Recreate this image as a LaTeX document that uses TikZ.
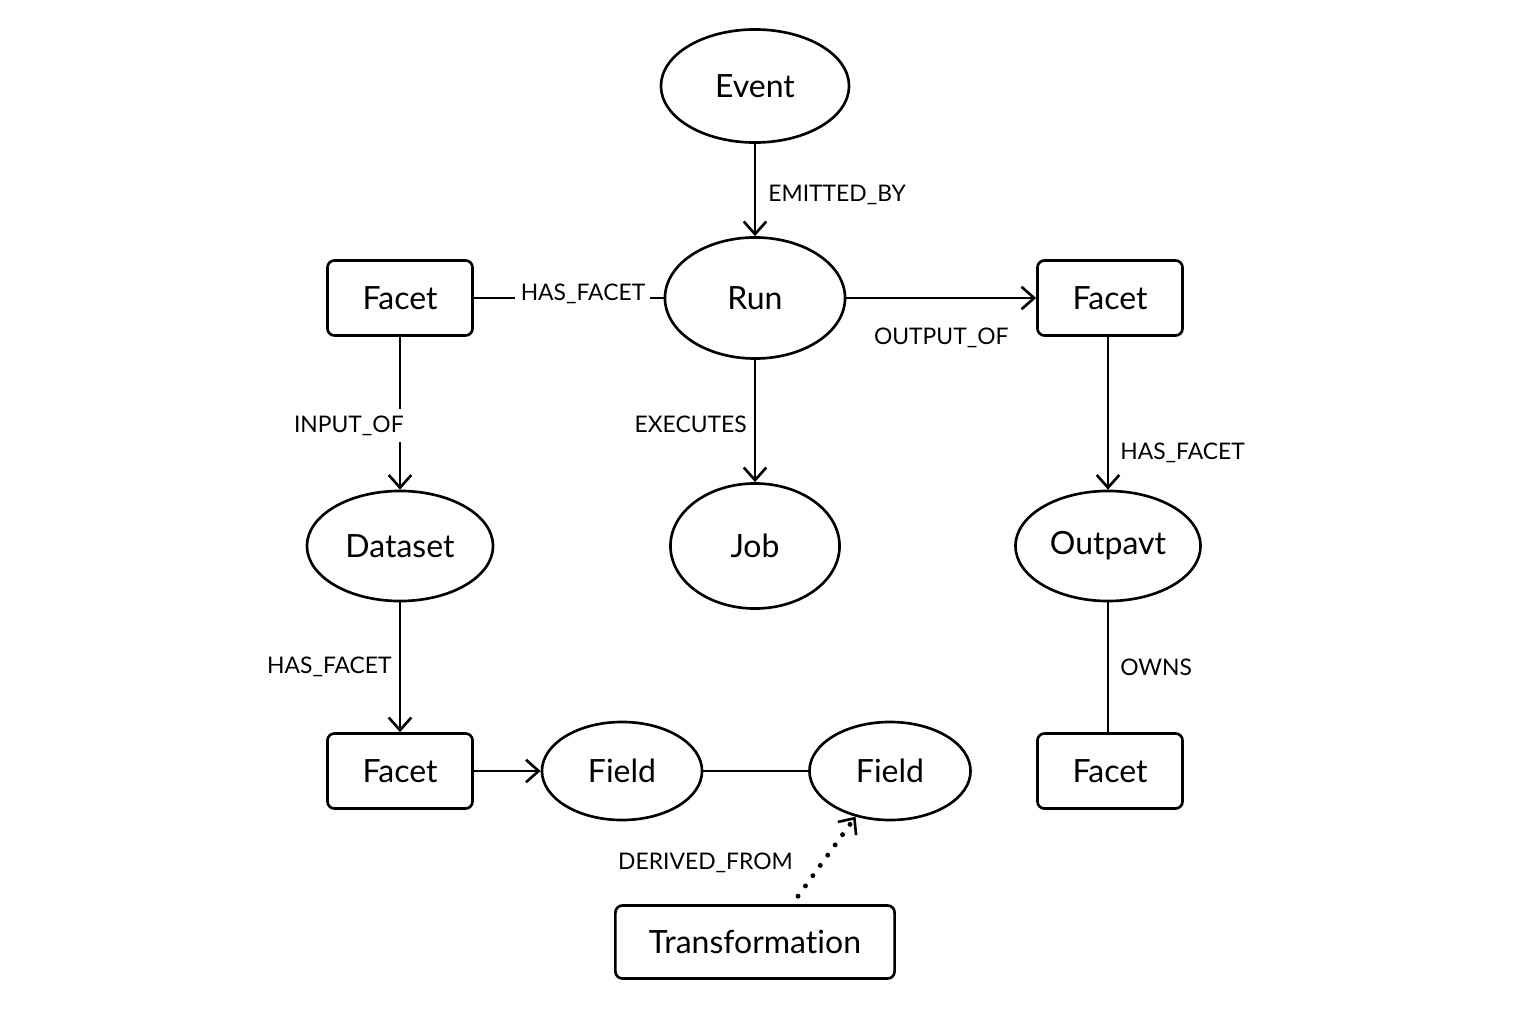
\documentclass[tikz,border=0pt]{standalone}
\usepackage{fontspec}
\setmainfont[Ligatures=NoCommon]{Lato}
\usetikzlibrary{arrows.meta,shapes.geometric}
\tikzset{
	ent/.style={draw,ellipse,line width=0.75pt,inner sep=0pt,font=\fontsize{9.1}{10}\selectfont},
	fbox/.style={draw,rectangle,rounded corners=2pt,line width=0.75pt,minimum width=1.45cm,minimum height=0.75cm,font=\fontsize{9.1}{10}\selectfont},
	lbl/.style={font=\fontsize{6.5}{8}\selectfont,inner sep=2pt},
	rel/.style={line width=0.75pt},
	arr/.style={rel,-{Straight Barb[length=3.6pt,width=6.4pt,line width=0.75pt]}}
}
\begin{document}
\begin{tikzpicture}[x=0.01cm,y=-0.01cm]
		\useasboundingbox (0,0) rectangle (1536,1024);

		% nodes
		\node[ent,minimum width=1.88cm,minimum height=1.13cm] (event) at (755,86) {Event};
		\node[ent,minimum width=1.80cm,minimum height=1.21cm] (run) at (755,298) {Run};
		\node[fbox] (facetin) at (400,298) {Facet};
		\node[fbox] (facetout) at (1110,298) {Facet};
		\node[ent,minimum width=1.86cm,minimum height=1.10cm] (dataset) at (400,546) {Dataset};
		\node[ent,minimum width=1.69cm,minimum height=1.25cm] (job) at (755,546) {Job};
		\node[ent,minimum width=1.85cm,minimum height=1.10cm] (output) at (1108,546) {Outpavt};
		\node[fbox] (facetds) at (400,771) {Facet};
		\node[ent,minimum width=1.60cm,minimum height=0.98cm] (fielda) at (622,771) {Field};
		\node[ent,minimum width=1.61cm,minimum height=0.98cm] (fieldb) at (890,771) {Field};
		\node[fbox] (facetown) at (1110,771) {Facet};
		\node[fbox,minimum width=2.79cm,minimum height=0.73cm] (trans) at (755,942) {Transformation};

		% relations
		\draw[arr] (event) -- (run) node[lbl,pos=0.55,right=0.05cm] {EMITTED\_BY};
		\draw[rel] (facetin) -- (run) node[lbl,pos=0.575,fill=white,inner xsep=1.5pt,yshift=0.04cm] {HAS\_FACET};
		\draw[arr] (run) -- (facetout) node[lbl,midway,below=0.22cm] {OUTPUT\_OF};
		\draw[arr] (facetin) -- (dataset) node[lbl,pos=0.58,fill=white,anchor=east,xshift=0.12cm] {INPUT\_OF};
		\draw[arr] (run) -- (job) node[lbl,pos=0.53,left=0cm] {EXECUTES};
		\draw[arr] (facetout.south-|output) -- (output) node[lbl,pos=0.76,right=0.04cm] {HAS\_FACET};
		\draw[arr] (dataset) -- (facetds) node[lbl,midway,left=0cm] {HAS\_FACET};
		\draw[rel] (output) -- (output|-facetown.north) node[lbl,midway,right=0.04cm] {OWNS};
		\draw[arr] (facetds) -- (fielda);
		\draw[rel] (fielda) -- (fieldb);
		\coordinate (tstart) at ([xshift=0.43cm,yshift=0.08cm]trans.north);
		\draw[arr,line width=1.4pt,line cap=round,dash pattern=on 0pt off 3.6pt] (tstart) -- (fieldb.233) node[lbl,pos=0.42,left=0.2cm] {DERIVED\_FROM};

	\end{tikzpicture}
\end{document}
